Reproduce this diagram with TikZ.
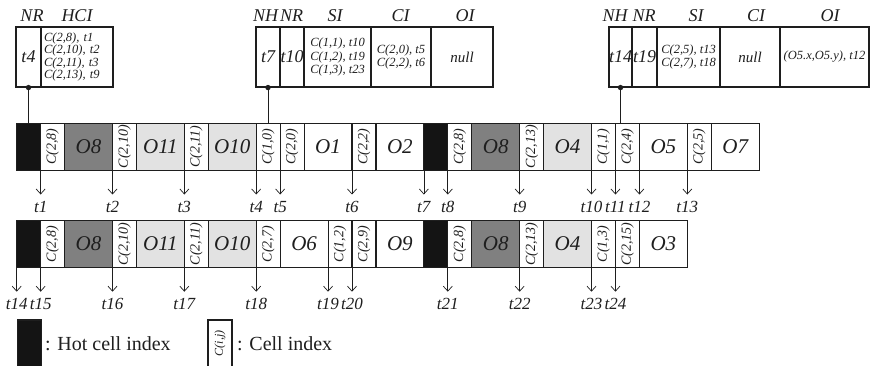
\documentclass[tikz,border=0pt]{standalone}
\usepackage{fontspec}
\setmainfont{Liberation Serif}
\usetikzlibrary{arrows.meta}
\definecolor{hot}{HTML}{141414}
\definecolor{darkobj}{HTML}{808080}
\definecolor{lightobj}{HTML}{E2E2E2}
\definecolor{edge}{HTML}{1E1E1E}
\tikzset{
 cellline/.style={draw=edge, line width=1.1pt, inner sep=0pt, text=edge},
 hotcell/.style={cellline, fill=hot, minimum width=23.95pt, minimum height=47pt},
 ccell/.style={cellline, fill=white, rotate=90, minimum width=47pt, minimum height=23.95pt, font=\fontsize{14}{14}\selectfont\itshape},
 ocell/.style={cellline, minimum width=47.9pt, minimum height=47pt, font=\fontsize{21}{21}\selectfont\itshape},
 tbox/.style={draw=edge, line width=1.1pt, inner sep=0pt, minimum height=60pt, text=edge},
 tmark/.style={font=\fontsize{18}{18}\selectfont\itshape},
 head/.style={font=\fontsize{18}{18}\selectfont\itshape, anchor=base, inner sep=0pt, text=edge},
 entrytext/.style={font=\fontsize{12.5}{#1}\selectfont\itshape},
 arr/.style={-{Straight Barb[length=5pt,width=9pt]}, line width=0.7pt, draw=edge},
 ptr/.style={line width=0.9pt, draw=edge},
 tlab/.style={font=\fontsize{17}{17}\selectfont\itshape, inner sep=0pt, text=edge},
 legtext/.style={font=\fontsize{20}{20}\selectfont, anchor=west, inner sep=0pt, text=edge},
}
\begin{document}
\begin{tikzpicture}[x=1pt,y=-1pt]
\useasboundingbox (0,0) rectangle (874,366);

% ---------- top boxes ----------
% box 1
\node[tbox, tmark, minimum width=25pt] (nr1) at (28.5,57) {t4};
\node[tbox, minimum width=72pt, text width=66pt, align=left, entrytext=10.7pt] (hci1) at (77,57)
  {C(2,8), t1\\C(2,10), t2\\C(2,11), t3\\C(2,13), t9};
\node[head] (hnr1) at (32,21.5) {NR};
\node[head] (hhci1) at (77,21.5) {HCI};

% box 2
\node[tbox, tmark, minimum width=24pt] (nh2) at (268,57) {t7};
\node[tbox, tmark, minimum width=24pt] (nr2) at (292,57) {t10};
\node[tbox, minimum width=67pt, align=center, entrytext=13.8pt] (si2) at (337.5,57)
  {C(1,1), t10\\C(1,2), t19\\C(1,3), t23};
\node[tbox, minimum width=60pt, align=center, entrytext=12.7pt] (ci2) at (401,57)
  {C(2,0), t5\\C(2,2), t6};
\node[tbox, minimum width=62pt, font=\fontsize{15}{15}\selectfont\itshape] (oi2) at (462,57) {null};
\node[head] (hnh2) at (265.5,21.5) {NH};
\node[head] (hnr2) at (291.7,21.5) {NR};
\node[head] (hsi2) at (335,21.5) {SI};
\node[head] (hci2) at (400.7,21.5) {CI};
\node[head] (hoi2) at (465,21.5) {OI};

% box 3
\node[tbox, tmark, minimum width=23pt] (nh3) at (620.5,57) {t14};
\node[tbox, tmark, minimum width=25pt] (nr3) at (644.5,57) {t19};
\node[tbox, minimum width=63pt, align=center, entrytext=12.7pt] (si3) at (688.5,57)
  {C(2,5), t13\\C(2,7), t18};
\node[tbox, minimum width=60pt, font=\fontsize{15}{15}\selectfont\itshape] (ci3) at (750,57) {null};
\node[tbox, minimum width=89pt, entrytext=12.5pt] (oi3) at (824.5,57) {(O5.x,O5.y), t12};
\node[head] (hnh3) at (615,21.5) {NH};
\node[head] (hnr3) at (644,21.5) {NR};
\node[head] (hsi3) at (696,21.5) {SI};
\node[head] (hci3) at (756,21.5) {CI};
\node[head] (hoi3) at (830,21.5) {OI};

% ---------- strip 1 ----------
\foreach \c [count=\i] in {0.5,17.5}
  \node[hotcell] (ah\i) at ({16.7+\c*23.95},146.7) {};
\foreach \c/\t [count=\i] in {1.5/{C(2,8)},4.5/{C(2,10)},7.5/{C(2,11)},10.5/{C(1,0)},11.5/{C(2,0)},14.5/{C(2,2)},18.5/{C(2,8)},21.5/{C(2,13)},24.5/{C(1,1)},25.5/{C(2,4)},28.5/{C(2,5)}}
  \node[ccell] (ac\i) at ({16.7+\c*23.95},146.7) {\t};
\foreach \c/\f/\t [count=\i] in {3/darkobj/O8,6/lightobj/O11,9/lightobj/O10,13/white/O1,16/white/O2,20/darkobj/O8,23/lightobj/O4,27/white/O5,30/white/O7}
  \node[ocell, fill=\f] (ao\i) at ({16.7+\c*23.95},146.7) {\t};

% ---------- strip 2 ----------
\foreach \c [count=\i] in {0.5,17.5}
  \node[hotcell] (bh\i) at ({16.7+\c*23.95},244) {};
\foreach \c/\t [count=\i] in {1.5/{C(2,8)},4.5/{C(2,10)},7.5/{C(2,11)},10.5/{C(2,7)},13.5/{C(1,2)},14.5/{C(2,9)},18.5/{C(2,8)},21.5/{C(2,13)},24.5/{C(1,3)},25.5/{C(2,15)}}
  \node[ccell] (bc\i) at ({16.7+\c*23.95},244) {\t};
\foreach \c/\f/\t [count=\i] in {3/darkobj/O8,6/lightobj/O11,9/lightobj/O10,12/white/O6,16/white/O9,20/darkobj/O8,23/lightobj/O4,27/white/O3}
  \node[ocell, fill=\f] (bo\i) at ({16.7+\c*23.95},244) {\t};

% ---------- pointers from the top boxes ----------
\coordinate (s1top) at (0,123.2);
\foreach \n in {nr1,nh2,nh3}{
  \draw[ptr] (\n.south) -- (\n.south |- s1top);
  \fill[edge] (\n.south) circle (2.7pt);
}

% ---------- arrows below strip 1 ----------
\foreach \u/\t in {1/t1,4/t2,7/t3,10/t4,11/t5,14/t6,17/t7,18/t8,21/t9,24/t10,25/t11,26/t12,28/t13}{
  \coordinate (r1s\t) at ({16.7+\u*23.95},170.2);
  \coordinate (r1e\t) at ({16.7+\u*23.95},194.5);
  \draw[arr] (r1s\t) -- (r1e\t);
  \node[tlab] (l\t) at ({16.7+\u*23.95},207) {\t};
}

% ---------- arrows below strip 2 ----------
\foreach \u/\t in {0/t14,1/t15,4/t16,7/t17,10/t18,13/t19,14/t20,18/t21,21/t22,24/t23,25/t24}{
  \coordinate (r2s\t) at ({16.7+\u*23.95},267.5);
  \coordinate (r2e\t) at ({16.7+\u*23.95},291.7);
  \draw[arr] (r2s\t) -- (r2e\t);
  \node[tlab] (l\t) at ({16.7+\u*23.95},303.5) {\t};
}

% ---------- legend ----------
\node[hotcell] (leghot) at (29.2,343.5) {};
\node[legtext] (leghottext) at (45,344) {: Hot cell index};
\node[ccell, font=\fontsize{12}{12}\selectfont\itshape] (legcell) at (220,343.5) {C(i,j)};
\node[legtext] (legcelltext) at (237,344) {: Cell index};
\end{tikzpicture}
\end{document}
